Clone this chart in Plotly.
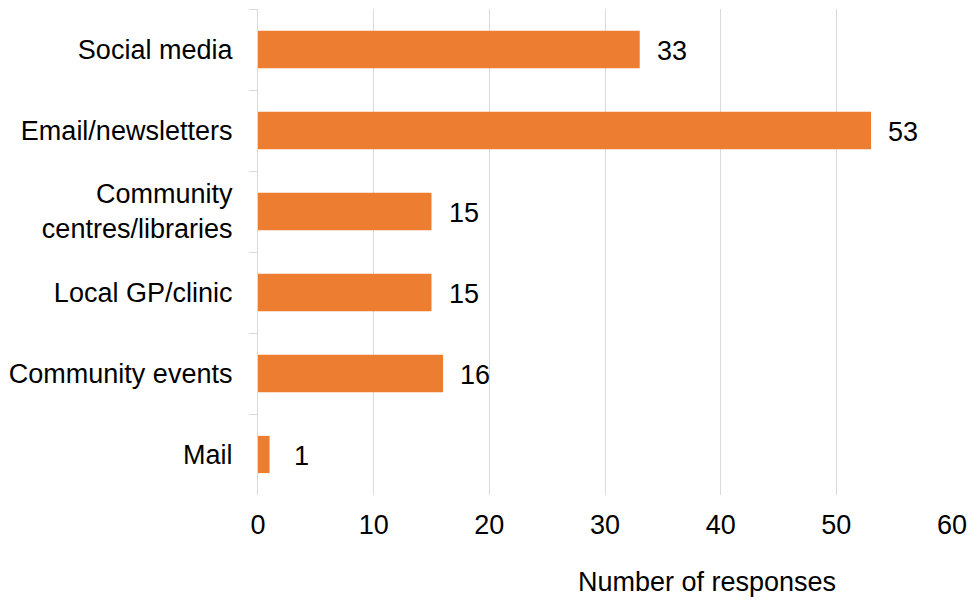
import plotly.graph_objects as go

categories = ["Social media", "Email/newsletters", "Community<br>centres/libraries",
              "Local GP/clinic", "Community events", "Mail"]
values = [33, 53, 15, 15, 16, 1]
x_ticks = [0, 10, 20, 30, 40, 50, 60]

FONT = "Liberation Sans, Arial, sans-serif"
FS = 27

fig = go.Figure()
fig.add_trace(go.Bar(
    y=categories, x=values, orientation="h",
    marker=dict(color="#ED7D31", line=dict(width=0)),
    width=0.46, hoverinfo="x+y",
))

for c, v in zip(categories, values):
    fig.add_annotation(x=v, y=c, text=str(v), showarrow=False,
                       xanchor="center", xshift=32, yshift=-1,
                       font=dict(family=FONT, size=FS, color="#000000"))

fig.add_annotation(xref="paper", yref="paper", x=(710 - 257) / 700, y=-(582 - 495) / 486,
                   text="Number of responses", showarrow=False,
                   xanchor="center", yanchor="middle",
                   font=dict(family=FONT, size=FS, color="#000000"))

fig.update_layout(
    width=976, height=600,
    margin=dict(l=257, r=19, t=9, b=105),
    plot_bgcolor="white", paper_bgcolor="white",
    showlegend=False,
    font=dict(family=FONT, size=FS, color="#000000"),
    xaxis=dict(range=[0, 60], tickvals=x_ticks, showgrid=True, gridcolor="#d9d9d9",
               gridwidth=1.3, zeroline=False, showline=False, ticks="",
               ticklabelstandoff=11,
               tickfont=dict(family=FONT, size=FS, color="#000000")),
    yaxis=dict(autorange="reversed", showline=True, linecolor="#d9d9d9", linewidth=1.3,
               ticks="outside", ticklen=8, tickcolor="#d9d9d9", tickwidth=1.3,
               tickson="boundaries", ticklabelstandoff=19,
               tickfont=dict(family=FONT, size=FS, color="#000000")),
)

fig.write_html("out.html", config={"displayModeBar": False},
               post_script="document.body.style.margin='0';document.body.style.overflow='hidden';")
